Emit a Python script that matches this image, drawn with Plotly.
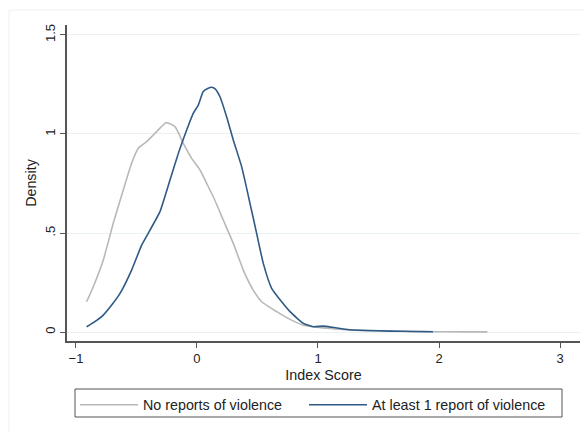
import plotly.graph_objects as go

# Kernel density estimates
no_x = [-0.912, -0.857, -0.774, -0.692, -0.609, -0.540, -0.485, -0.416, -0.333, -0.256,
        -0.182, -0.113, -0.044, 0.025, 0.107, 0.135, 0.217, 0.300, 0.383, 0.465, 0.535,
        0.659, 0.769, 0.879, 0.989, 1.10, 1.25, 1.50, 1.75, 2.00, 2.20, 2.40]
no_y = [0.153, 0.229, 0.364, 0.549, 0.717, 0.852, 0.928, 0.961, 1.012, 1.057,
        1.037, 0.953, 0.877, 0.818, 0.717, 0.683, 0.566, 0.448, 0.313, 0.212, 0.153,
        0.103, 0.064, 0.035, 0.025, 0.018, 0.011, 0.006, 0.003, 0.002, 0.001, 0.001]

yes_x = [-0.912, -0.850, -0.774, -0.700, -0.636, -0.540, -0.457, -0.388, -0.306, -0.223,
         -0.154, -0.085, -0.031, 0.011, 0.052, 0.093, 0.121, 0.150, 0.190, 0.245, 0.300,
         0.369, 0.438, 0.493, 0.548, 0.617, 0.700, 0.769, 0.879, 0.961, 1.044, 1.12,
         1.26, 1.40, 1.60, 1.80, 1.95]
yes_y = [0.027, 0.050, 0.086, 0.140, 0.195, 0.313, 0.439, 0.515, 0.608, 0.768,
         0.902, 1.020, 1.104, 1.146, 1.214, 1.231, 1.236, 1.228, 1.188, 1.087, 0.970,
         0.835, 0.650, 0.498, 0.347, 0.221, 0.153, 0.103, 0.044, 0.027, 0.030, 0.024,
         0.012, 0.008, 0.005, 0.003, 0.002]

x_ticks = [-1, 0, 1, 2, 3]
y_ticks = [0, 0.5, 1, 1.5]
y_labels = ["0", ".5", "1", "1.5"]

FONT = "Liberation Sans, Arial, sans-serif"
TXT = "#222222"

fig = go.Figure()
fig.add_trace(go.Scatter(x=no_x, y=no_y, mode="lines", name="No reports of violence",
                         legend="legend",
                         line=dict(color="#b8b8b8", width=1.6, shape="spline", smoothing=0.5)))
fig.add_trace(go.Scatter(x=yes_x, y=yes_y, mode="lines", name="At least 1 report of violence",
                         legend="legend2",
                         line=dict(color="#2f5a85", width=1.6, shape="spline", smoothing=0.5)))

leg_common = dict(orientation="h", xref="container", yref="container",
                  xanchor="left", y=1 - 389 / 432, yanchor="top",
                  borderwidth=0, bgcolor="rgba(0,0,0,0)",
                  font=dict(family=FONT, size=14.3, color=TXT),
                  itemwidth=58)

fig.update_layout(
    width=584, height=432,
    margin=dict(l=67, r=4, t=25, b=91),
    paper_bgcolor="white", plot_bgcolor="white",
    font=dict(family=FONT, size=13, color=TXT),
    showlegend=True,
    legend=dict(x=75 / 584, **leg_common),
    legend2=dict(x=304 / 584, **leg_common),
    xaxis=dict(range=[-1.074, 3.165], tickvals=x_ticks, ticks="outside", ticklen=5,
               tickcolor="#555555", showline=True, linecolor="#555555", linewidth=1.5,
               showgrid=False, zeroline=False,
               title=dict(text="Index Score", standoff=5,
                          font=dict(family=FONT, size=14.3, color=TXT)),
               tickfont=dict(family=FONT, size=13, color=TXT)),
    yaxis=dict(range=[-0.045, 1.55], tickvals=y_ticks, ticktext=y_labels, ticks="outside",
               ticklen=5, tickcolor="#555555", tickangle=-90, showline=True,
               linecolor="#555555", linewidth=1.5, showgrid=True, gridcolor="#eaf1f2",
               gridwidth=1, zeroline=False,
               title=dict(text="Density", standoff=3,
                          font=dict(family=FONT, size=14.3, color=TXT)),
               tickfont=dict(family=FONT, size=13, color=TXT)),
    shapes=[
        dict(type="rect", xref="paper", yref="paper", x0=-58 / 513, x1=1.2,
             y0=-2, y1=(341 - 10) / 316, line=dict(color="#f0f0f0", width=1),
             layer="below"),
        dict(type="rect", xref="paper", yref="paper",
             x0=(75 - 67) / 513, x1=(562 - 67) / 513,
             y0=(341 - 417) / 316, y1=(341 - 389) / 316,
             line=dict(color="#555555", width=1), fillcolor="rgba(0,0,0,0)"),
    ],
)

fig.write_html("out.html")
